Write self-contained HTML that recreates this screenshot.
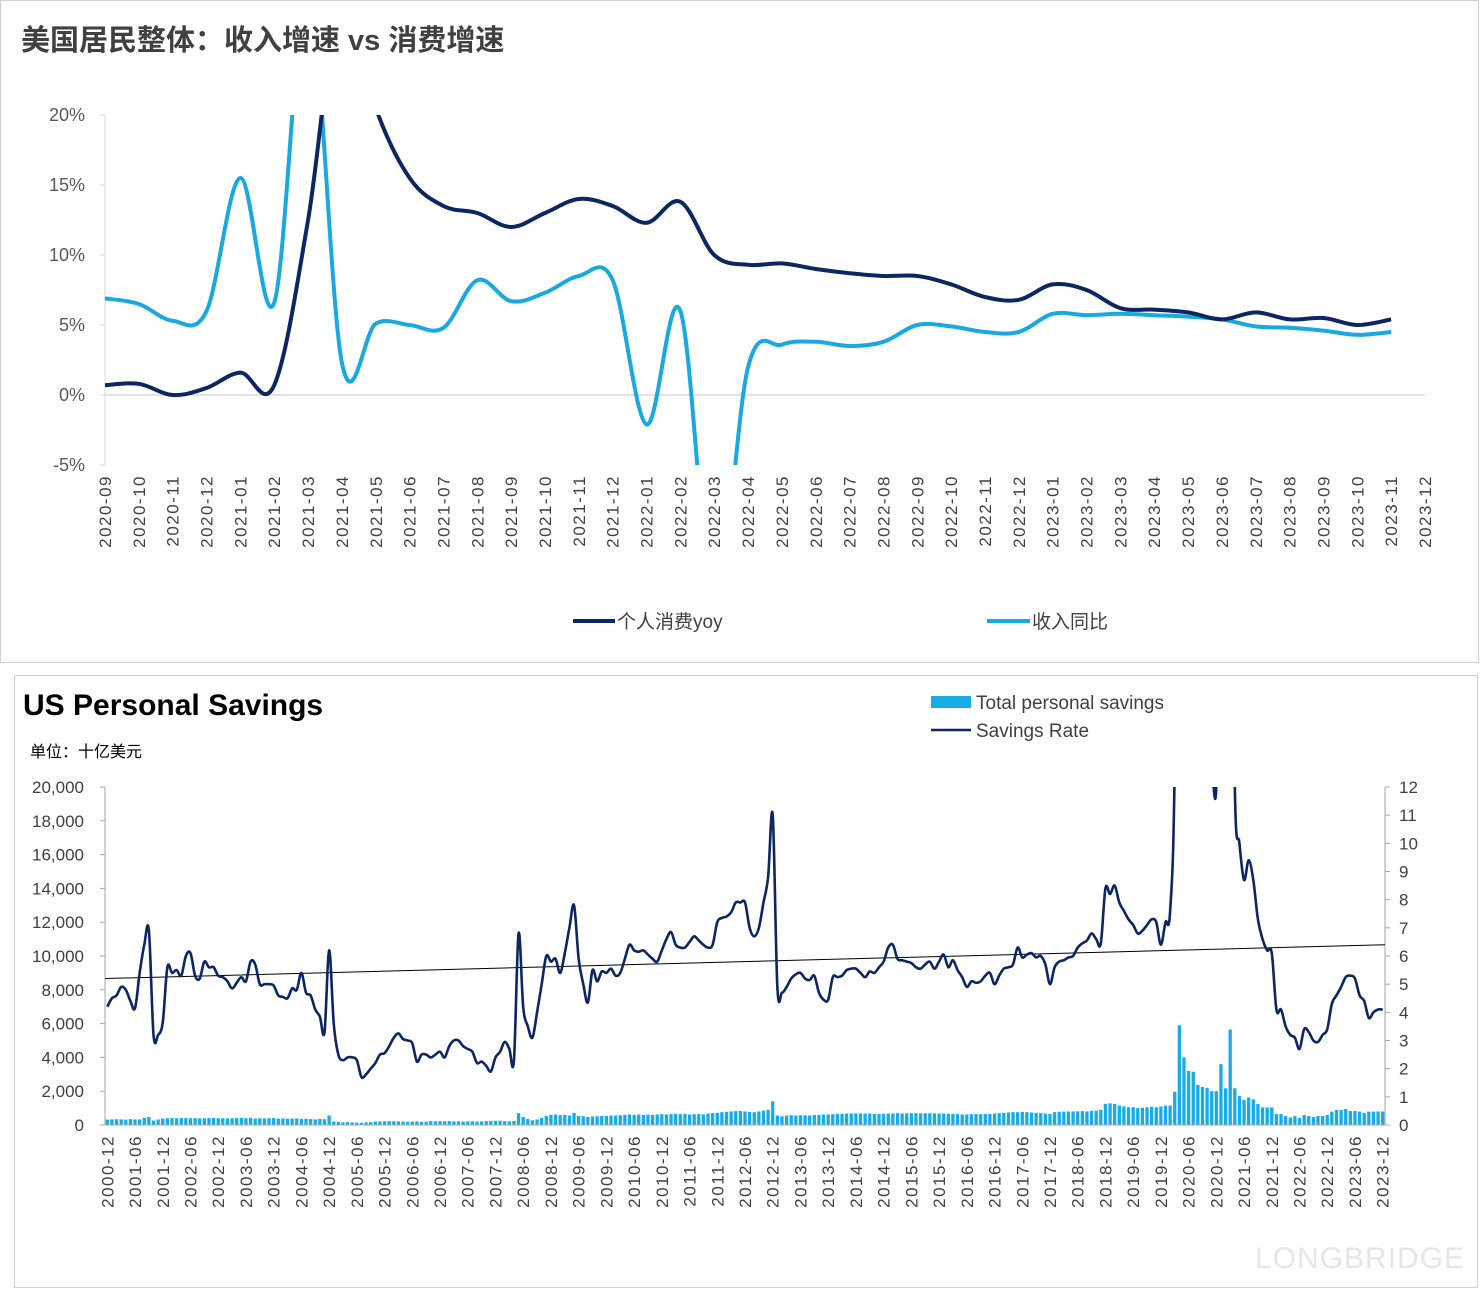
<!DOCTYPE html>
<html><head><meta charset="utf-8">
<style>
html,body{margin:0;padding:0;background:#fff;}
body{width:1480px;height:1289px;position:relative;overflow:hidden;font-family:"Liberation Sans","Noto Sans CJK SC",sans-serif;}
svg{position:absolute;left:0;top:0;}
</style></head>
<body>
<svg id="chart" width="1480" height="1289" xmlns="http://www.w3.org/2000/svg">
<defs>
<clipPath id="clipTop"><rect x="100" y="115" width="1330" height="350"/></clipPath>
<clipPath id="clipBot"><rect x="100" y="787" width="1290" height="340"/></clipPath>
</defs>
<rect x="0.5" y="0.5" width="1478" height="662" fill="#fff" stroke="#d0d0d0"/>
<rect x="14.5" y="675.5" width="1463" height="612" fill="#fff" stroke="#d0d0d0"/>
<text x="21" y="50" font-size="29" font-weight="bold" fill="#404040" font-family="'Liberation Sans','Noto Sans CJK SC',sans-serif">美国居民整体：收入增速 vs 消费增速</text>
<text x="23" y="715" font-size="30" font-weight="bold" fill="#000">US Personal Savings</text>
<text x="30" y="757" font-size="16" fill="#000" font-family="'Liberation Sans','Noto Sans CJK SC',sans-serif">单位：十亿美元</text>
<text x="1255" y="1268" font-size="30" fill="#e6e6e6" letter-spacing="1">LONGBRIDGE</text>
<g id="topChart"></g>
<g id="botChart"></g>
</svg>
<script>
const topCats = ["2020-09","2020-10","2020-11","2020-12","2021-01","2021-02","2021-03","2021-04","2021-05","2021-06","2021-07","2021-08","2021-09","2021-10","2021-11","2021-12","2022-01","2022-02","2022-03","2022-04","2022-05","2022-06","2022-07","2022-08","2022-09","2022-10","2022-11","2022-12","2023-01","2023-02","2023-03","2023-04","2023-05","2023-06","2023-07","2023-08","2023-09","2023-10","2023-11","2023-12"];
const consumption = [0.7,0.8,0.0,0.5,1.6,0.7,12.5,29,20.5,15.5,13.5,13.0,12.0,13.0,14.0,13.5,12.3,13.8,10.0,9.3,9.4,9.0,8.7,8.5,8.5,7.9,7.0,6.8,7.9,7.5,6.2,6.1,5.9,5.4,5.9,5.4,5.5,5.0,5.4];
const income = [6.9,6.5,5.3,6.0,15.5,6.6,29,2.3,5.1,5.0,4.8,8.2,6.7,7.3,8.5,8.2,-2.1,6.0,-15,2.0,3.6,3.8,3.5,3.8,5.0,4.9,4.5,4.5,5.8,5.7,5.8,5.7,5.6,5.4,4.9,4.8,4.6,4.3,4.5];
const topTicks = [-5,0,5,10,15,20];

const savingsRate = [4.2,
4.5,4.6,4.9,4.8,4.4,4.15,5.4,6.4,6.9,3.2,3.2,3.65,
5.6,5.4,5.5,5.3,6.0,6.1,5.3,5.2,5.8,5.6,5.6,5.3,
5.25,5.1,4.85,5.05,5.25,5.1,5.8,5.7,5.0,5.0,5.0,4.95,
4.6,4.55,4.5,4.85,4.8,5.4,4.7,4.6,4.1,3.85,3.3,6.2,
3.6,2.5,2.3,2.4,2.4,2.3,1.7,1.8,2.0,2.2,2.5,2.55,
2.8,3.1,3.25,3.05,3.0,2.9,2.25,2.5,2.5,2.4,2.5,2.6,
2.4,2.8,3.0,3.0,2.8,2.7,2.6,2.2,2.25,2.1,1.9,2.4,
2.6,2.95,2.7,2.3,6.8,4.2,3.5,3.1,4.0,5.0,6.0,5.8,
5.9,5.4,6.1,7.0,7.8,5.9,5.0,4.35,5.5,5.1,5.45,5.4,
5.55,5.3,5.4,5.9,6.4,6.2,6.15,6.2,6.05,5.9,5.8,6.2,
6.6,6.85,6.4,6.3,6.3,6.5,6.7,6.55,6.4,6.3,6.4,7.2,
7.35,7.4,7.55,7.9,7.9,7.9,7.0,6.7,7.0,7.9,8.8,11.0,
4.9,4.7,4.9,5.2,5.35,5.4,5.2,5.15,5.3,4.7,4.45,4.45,
5.25,5.25,5.3,5.5,5.55,5.55,5.4,5.25,5.45,5.4,5.6,5.8,
6.3,6.4,5.9,5.85,5.8,5.75,5.6,5.55,5.7,5.8,5.55,5.8,
6.05,5.6,5.85,5.5,5.25,4.9,5.1,5.05,5.1,5.3,5.4,5.0,
5.3,5.55,5.6,5.7,6.3,5.95,6.05,6.1,5.95,6.0,5.7,5.0,
5.6,5.8,5.85,5.95,6.0,6.3,6.45,6.55,6.8,6.6,6.45,8.4,
8.2,8.5,7.9,7.6,7.3,7.1,6.8,6.9,7.1,7.3,7.2,6.4,
7.2,7.6,12.9,32,24.5,19,18.6,14.6,14.7,13.6,12.8,12.0,
19.9,13.9,26.3,12.0,10.0,8.7,9.4,8.7,7.3,6.6,6.2,6.1,
4.1,4.1,3.5,3.2,3.1,2.7,3.4,3.3,3.0,2.95,3.2,3.4,
4.3,4.6,4.9,5.25,5.3,5.2,4.6,4.4,3.8,4.0,4.1,4.1];
const totalSavings = [320,
330,340,330,320,350,330,330,420,480,260,320,380,
400,410,400,420,410,400,410,390,400,410,420,400,
400,390,400,410,420,400,430,380,400,390,400,410,
380,390,370,380,390,360,370,350,330,360,340,560,
200,180,160,170,150,140,130,160,170,200,210,220,
230,220,210,200,190,200,210,190,200,230,220,230,
220,230,210,220,200,210,220,200,210,230,240,250,
250,230,220,240,700,480,360,280,330,420,530,600,
620,580,600,560,720,540,520,480,500,520,530,540,
560,560,580,600,620,600,620,600,610,600,620,640,
620,640,650,640,660,620,640,650,630,680,700,720,
760,780,800,820,830,800,780,760,800,850,900,1400,
560,520,560,580,560,580,570,560,590,600,620,620,
640,660,660,680,680,690,680,680,680,660,650,660,
680,680,700,680,690,700,700,690,700,700,690,680,
680,660,650,640,620,630,640,650,640,650,660,680,
700,720,740,760,760,780,760,740,720,700,680,650,
760,780,790,800,800,810,820,800,840,850,900,1250,
1280,1250,1150,1100,1050,1050,1000,1020,1050,1080,1050,1100,
1150,1150,1970,5900,4000,3200,3150,2370,2250,2200,2000,2000,
3600,2170,5650,2170,1720,1480,1630,1520,1240,1040,1040,1040,
650,650,530,450,530,410,590,530,470,530,530,590,
790,890,890,950,830,830,790,710,790,790,800,800];
const trendEnds = [5.2, 6.4];
const leftTicks = [0,2000,4000,6000,8000,10000,12000,14000,16000,18000,20000];
const rightTicks = [0,1,2,3,4,5,6,7,8,9,10,11,12];
const startYear = 2000, startMonth = 12;

const NS = "http://www.w3.org/2000/svg";
function mk(tag, attrs, parent){const e=document.createElementNS(NS,tag);for(const k in attrs)e.setAttribute(k,attrs[k]);parent.appendChild(e);return e;}
function smooth(pts){
  let d="M"+pts[0][0].toFixed(2)+","+pts[0][1].toFixed(2);
  for(let i=0;i<pts.length-1;i++){
    const p0=pts[i-1]||pts[i],p1=pts[i],p2=pts[i+1],p3=pts[i+2]||p2;
    const t=0.17;
    const c1=[p1[0]+(p2[0]-p0[0])*t,p1[1]+(p2[1]-p0[1])*t];
    const c2=[p2[0]-(p3[0]-p1[0])*t,p2[1]-(p3[1]-p1[1])*t];
    d+="C"+c1[0].toFixed(2)+","+c1[1].toFixed(2)+" "+c2[0].toFixed(2)+","+c2[1].toFixed(2)+" "+p2[0].toFixed(2)+","+p2[1].toFixed(2);
  }
  return d;
}

// ===== Top chart =====
const topG = document.getElementById('topChart');
const tX0=105, tX1=1425, tY0=395, tPer=14;
const tx = i => tX0 + i*(tX1-tX0)/(topCats.length-1);
const ty = v => tY0 - v*tPer;
const tAxis = mk('line',{x1:tX0,y1:ty(topTicks[topTicks.length-1]),x2:tX0,y2:ty(topTicks[0]),stroke:'#d9d9d9','stroke-width':1},topG);


topTicks.forEach(v=>{
  const tk=mk('line',{x1:tX0-5,y1:ty(v),x2:tX0,y2:ty(v),stroke:'#d9d9d9'},topG);
  
  
  const t=mk('text',{x:85,y:ty(v)+6,'text-anchor':'end','font-size':18,fill:'#595959'},topG);
  t.textContent=v+'%';
  
  
});
const zl=mk('line',{x1:tX0,y1:ty(0),x2:tX1,y2:ty(0),stroke:'#d9d9d9','stroke-width':1.5},topG);


topCats.forEach((c,i)=>{
  const t=mk('text',{transform:`translate(${tx(i)+6},475) rotate(-90)`,'text-anchor':'end','font-size':17,'letter-spacing':1.5,fill:'#404040'},topG);
  t.textContent=c;
  
  
});
const gTop=mk('g',{'clip-path':'url(#clipTop)'},topG);
const pInc=mk('path',{d:smooth(income.map((v,i)=>[tx(i),ty(v)])),fill:'none',stroke:'#1aa8e0','stroke-width':4,'stroke-linejoin':'round'},gTop);


const pCon=mk('path',{d:smooth(consumption.map((v,i)=>[tx(i),ty(v)])),fill:'none',stroke:'#0d2560','stroke-width':4,'stroke-linejoin':'round'},gTop);


const l1=mk('line',{x1:573,y1:621,x2:615,y2:621,stroke:'#0d2560','stroke-width':4},topG);


const lt1=mk('text',{x:617,y:628,'font-size':19,fill:'#404040'},topG);
lt1.textContent='个人消费yoy';


const l2=mk('line',{x1:987,y1:621,x2:1030,y2:621,stroke:'#1aa8e0','stroke-width':4},topG);


const lt2=mk('text',{x:1032,y:628,'font-size':19,fill:'#404040'},topG);
lt2.textContent='收入同比';



// ===== Bottom chart =====
const botG=document.getElementById('botChart');
const bX0=105, bX1=1385, bY0=1125, bY1=787;
const nMonths=savingsRate.length;
const bw=(bX1-bX0)/nMonths;
const bx=i=>bX0+(i+0.5)*bw;
const yl=v=>bY0-(v/leftTicks[leftTicks.length-1])*(bY0-bY1);
const yr=v=>bY0-(v/rightTicks[rightTicks.length-1])*(bY0-bY1);
const la=mk('line',{x1:bX0,y1:bY1,x2:bX0,y2:bY0,stroke:'#a6a6a6'},botG);


const ra=mk('line',{x1:bX1,y1:bY1,x2:bX1,y2:bY0,stroke:'#a6a6a6'},botG);


leftTicks.forEach(v=>{
  const tk=mk('line',{x1:bX0-5,y1:yl(v),x2:bX0,y2:yl(v),stroke:'#a6a6a6'},botG);
  
  
  const t=mk('text',{x:84,y:yl(v)+6,'text-anchor':'end','font-size':17,fill:'#404040'},botG);
  t.textContent=v.toLocaleString('en-US');
  
  
});
rightTicks.forEach(v=>{
  const tk=mk('line',{x1:bX1,y1:yr(v),x2:bX1+5,y2:yr(v),stroke:'#a6a6a6'},botG);
  
  
  const t=mk('text',{x:1399,y:yr(v)+6,'font-size':17,fill:'#404040'},botG);
  t.textContent=v;
  
  
});
totalSavings.forEach((v,i)=>{
  const r=mk('rect',{x:bx(i)-bw*0.36,y:yl(v),width:bw*0.72,height:bY0-yl(v),fill:'#17ade4'},botG);
  
  
});
const base=mk('line',{x1:bX0,y1:bY0,x2:bX1,y2:bY0,stroke:'#a6a6a6'},botG);


for(let i=0;i<nMonths;i+=6){
  const m=(startMonth-1+i)%12+1, y=startYear+Math.floor((startMonth-1+i)/12);
  const t=mk('text',{transform:`translate(${bx(i)+6},1135) rotate(-90)`,'text-anchor':'end','font-size':17,'letter-spacing':1.5,fill:'#404040'},botG);
  t.textContent=y+'-'+String(m).padStart(2,'0');
  
  
}
const gBot=mk('g',{'clip-path':'url(#clipBot)'},botG);
const tr=mk('line',{x1:bX0,y1:yr(trendEnds[0]),x2:bX1,y2:yr(trendEnds[1]),stroke:'#000','stroke-width':1},gBot);


const sr=mk('path',{d:smooth(savingsRate.map((v,i)=>[bx(i),yr(v)])),fill:'none',stroke:'#0d2560','stroke-width':2.6,'stroke-linejoin':'round'},gBot);


const lb=mk('rect',{x:931,y:696,width:40,height:12,fill:'#17ade4'},botG);


const lbt=mk('text',{x:976,y:709,'font-size':19,fill:'#404040'},botG);
lbt.textContent='Total personal savings';


const ll=mk('line',{x1:931,y1:730,x2:971,y2:730,stroke:'#0d2560','stroke-width':2.5},botG);


const llt=mk('text',{x:976,y:737,'font-size':19,fill:'#404040'},botG);
llt.textContent='Savings Rate';


</script>
</body></html>
